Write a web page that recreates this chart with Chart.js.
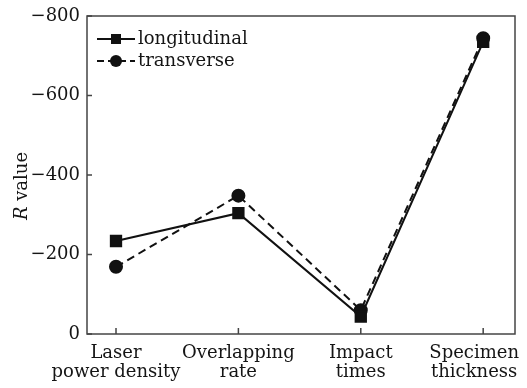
<!DOCTYPE html>
<html>
<head>
<meta charset="utf-8">
<script src="https://cdn.jsdelivr.net/npm/chart.js@4.4.3/dist/chart.umd.min.js"></script>
<style>
  html, body { margin: 0; padding: 0; background: #fff; }
  #wrap { width: 527px; height: 388px; }
</style>
</head>
<body>
<div id="wrap"><canvas id="rChart" width="527" height="388"></canvas></div>
<script>
// Category labels (two lines each) and R values
const categories = [
  ["Laser", "power density"],
  ["Overlapping", "rate"],
  ["Impact", "times"],
  ["Specimen", "thickness"]
];
const longitudinal = [-234, -304, -44, -735];
const transverse = [-169, -348, -60, -744];
const yTicks = [-800, -600, -400, -200, 0];

const FONT = "DejaVu Serif";
const INK = "#111";
const TEXT = "#151515";

function toPoints(values) {
  return values.map((v, i) => ({ x: i, y: v }));
}

// the last label sits a little left of its tick so it stays on the page
function xLabel(i) {
  const lines = categories[i];
  if (!lines) return "";
  return i === categories.length - 1 ? lines.map(s => s + "\u2003") : lines;
}

// frame, inside ticks, legend and axis title
const decorations = {
  id: "decorations",
  afterDraw(chart) {
    const ctx = chart.ctx;
    const area = chart.chartArea;
    const xs = chart.scales.x;
    const ys = chart.scales.y;
    ctx.save();
    ctx.strokeStyle = "#444";
    ctx.lineWidth = 1.5;
    ctx.strokeRect(area.left, area.top, area.right - area.left, area.bottom - area.top);

    // tick marks pointing inward
    ctx.beginPath();
    categories.forEach((c, i) => {
      const px = xs.getPixelForValue(i);
      ctx.moveTo(px, area.bottom);
      ctx.lineTo(px, area.bottom - 6);
    });
    yTicks.forEach(t => {
      const py = ys.getPixelForValue(t);
      ctx.moveTo(area.left, py);
      ctx.lineTo(area.left + 5, py);
    });
    ctx.stroke();

    // legend
    const entries = [
      { label: "longitudinal", dash: [], style: "rect" },
      { label: "transverse", dash: [7, 4], style: "circle" }
    ];
    entries.forEach((e, k) => {
      const y = area.top + 23 + k * 22;
      const x0 = area.left + 10;
      const x1 = area.left + 48;
      ctx.strokeStyle = INK;
      ctx.lineWidth = 2;
      ctx.setLineDash(e.dash);
      ctx.beginPath();
      ctx.moveTo(x0, y);
      ctx.lineTo(x1, y);
      ctx.stroke();
      ctx.setLineDash([]);
      ctx.fillStyle = INK;
      const mx = (x0 + x1) / 2;
      if (e.style === "rect") {
        ctx.fillRect(mx - 5, y - 5, 10, 10);
      } else {
        ctx.beginPath();
        ctx.arc(mx, y, 6, 0, Math.PI * 2);
        ctx.fill();
      }
      ctx.font = "18px '" + FONT + "'";
      ctx.textBaseline = "middle";
      ctx.textAlign = "left";
      ctx.fillStyle = TEXT;
      ctx.fillText(e.label, x1 + 3, y);
    });

    // y axis title with italic R
    ctx.translate(22, (area.top + area.bottom) / 2 + 11);
    ctx.rotate(-Math.PI / 2);
    ctx.textBaseline = "middle";
    ctx.textAlign = "left";
    ctx.fillStyle = TEXT;
    ctx.font = "italic 18px '" + FONT + "'";
    const rW = ctx.measureText("R").width;
    ctx.font = "18px '" + FONT + "'";
    const vW = ctx.measureText(" value").width;
    const start = -(rW + vW) / 2;
    ctx.font = "italic 18px '" + FONT + "'";
    ctx.fillText("R", start, 0);
    ctx.font = "18px '" + FONT + "'";
    ctx.fillText(" value", start + rW, 0);
    ctx.restore();
  }
};

new Chart(document.getElementById("rChart"), {
  type: "line",
  data: {
    datasets: [
      {
        label: "longitudinal",
        data: toPoints(longitudinal),
        borderColor: INK,
        backgroundColor: INK,
        borderWidth: 2,
        pointStyle: "rect",
        pointRadius: 7.3,
        pointHoverRadius: 7.3
      },
      {
        label: "transverse",
        data: toPoints(transverse),
        borderColor: INK,
        backgroundColor: INK,
        borderWidth: 2,
        borderDash: [8, 5],
        pointStyle: "circle",
        pointRadius: 6,
        pointHoverRadius: 6
      }
    ]
  },
  options: {
    responsive: false,
    animation: false,
    layout: { padding: { top: 16, right: 12, left: 0, bottom: 0 } },
    plugins: {
      legend: { display: false },
      tooltip: { enabled: false }
    },
    scales: {
      x: {
        type: "linear",
        min: -0.237,
        max: 3.26,
        afterBuildTicks(scale) {
          scale.ticks = categories.map((c, i) => ({ value: i }));
        },
        afterFit(scale) {
          scale.height = 54;
          // let the end labels overhang instead of shrinking the plot
          scale.paddingLeft = 0;
          scale.paddingRight = 0;
        },
        grid: { display: false, drawTicks: false },
        border: { display: false },
        ticks: {
          padding: 9,
          color: TEXT,
          font: { family: FONT, size: 18, lineHeight: 1.1 },
          maxRotation: 0,
          autoSkip: false,
          callback: (v) => xLabel(v)
        }
      },
      y: {
        type: "linear",
        min: -800,
        max: 0,
        reverse: true,
        afterBuildTicks(scale) {
          scale.ticks = yTicks.map(v => ({ value: v }));
        },
        afterFit(scale) {
          scale.width = 87;
          scale.paddingTop = 0;
          scale.paddingBottom = 0;
        },
        grid: { display: false, drawTicks: false },
        border: { display: false },
        ticks: {
          padding: 7,
          color: TEXT,
          font: { family: FONT, size: 18 },
          callback: (v) => (v < 0 ? "\u2212" + Math.abs(v) : String(v))
        }
      }
    }
  },
  plugins: [decorations]
});
</script>
</body>
</html>
